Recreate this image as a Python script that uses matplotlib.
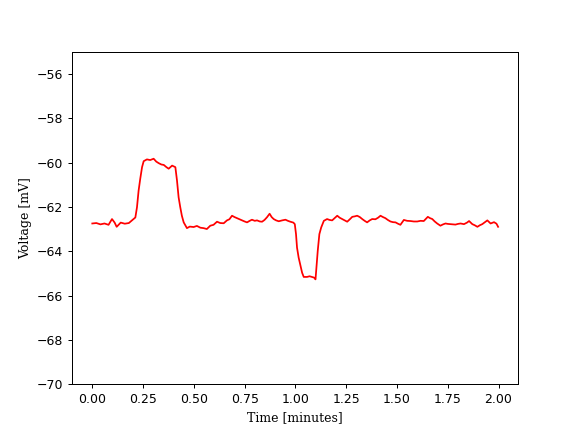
import matplotlib
matplotlib.use("Agg")
import matplotlib.pyplot as plt

time_min = [0.00, 0.02, 0.04, 0.06, 0.08, 0.097, 0.11, 0.12, 0.14, 0.16, 0.18, 0.195, 0.212,
            0.22, 0.228, 0.236, 0.245, 0.253, 0.269, 0.285, 0.302, 0.315, 0.327, 0.34, 0.352,
            0.365, 0.376, 0.393, 0.409, 0.417, 0.425, 0.433, 0.441, 0.45, 0.466, 0.48, 0.499,
            0.515, 0.532, 0.548, 0.564, 0.581, 0.597, 0.614, 0.63, 0.647, 0.663, 0.675, 0.688,
            0.70, 0.713, 0.725, 0.737, 0.75, 0.762, 0.775, 0.786, 0.80, 0.811, 0.825, 0.836,
            0.848, 0.86, 0.873, 0.883, 0.893, 0.905, 0.918, 0.935, 0.951, 0.963, 0.975, 0.99,
            0.997, 1.003, 1.008, 1.016, 1.025, 1.033, 1.041, 1.057, 1.07, 1.082, 1.092, 1.099,
            1.103, 1.11, 1.118, 1.127, 1.14, 1.156, 1.168, 1.181, 1.195, 1.206, 1.218, 1.23,
            1.243, 1.255, 1.268, 1.28, 1.292, 1.304, 1.317, 1.329, 1.341, 1.353, 1.366, 1.378,
            1.394, 1.407, 1.419, 1.431, 1.443, 1.455, 1.468, 1.48, 1.493, 1.505, 1.517, 1.534,
            1.55, 1.567, 1.583, 1.60, 1.616, 1.632, 1.652, 1.663, 1.674, 1.686, 1.698, 1.714,
            1.727, 1.739, 1.751, 1.764, 1.776, 1.788, 1.80, 1.813, 1.83, 1.845, 1.855, 1.871,
            1.883, 1.896, 1.908, 1.92, 1.933, 1.945, 1.961, 1.978, 1.99, 1.998]

voltage_mv = [-62.74, -62.72, -62.78, -62.74, -62.80, -62.54, -62.70, -62.89, -62.70, -62.75,
              -62.72, -62.60, -62.47, -62.01, -61.26, -60.73, -60.20, -59.93, -59.85, -59.88,
              -59.82, -59.95, -60.02, -60.08, -60.10, -60.20, -60.27, -60.13, -60.20, -60.80,
              -61.56, -62.00, -62.39, -62.69, -62.95, -62.88, -62.90, -62.85, -62.93, -62.95,
              -62.99, -62.84, -62.80, -62.66, -62.72, -62.73, -62.60, -62.55, -62.39, -62.45,
              -62.50, -62.55, -62.60, -62.65, -62.69, -62.62, -62.57, -62.62, -62.60, -62.65,
              -62.66, -62.58, -62.46, -62.30, -62.45, -62.54, -62.60, -62.64, -62.60, -62.57,
              -62.62, -62.66, -62.70, -62.77, -63.22, -63.83, -64.28, -64.65, -64.96, -65.15,
              -65.15, -65.12, -65.15, -65.18, -65.26, -64.81, -63.97, -63.22, -62.92, -62.62,
              -62.54, -62.58, -62.60, -62.48, -62.39, -62.48, -62.54, -62.60, -62.66, -62.55,
              -62.44, -62.42, -62.39, -62.45, -62.54, -62.62, -62.69, -62.60, -62.54, -62.55,
              -62.48, -62.39, -62.45, -62.50, -62.58, -62.65, -62.68, -62.69, -62.75, -62.80,
              -62.58, -62.62, -62.63, -62.65, -62.65, -62.62, -62.63, -62.44, -62.50, -62.54,
              -62.65, -62.74, -62.84, -62.78, -62.74, -62.76, -62.77, -62.78, -62.79, -62.76,
              -62.74, -62.77, -62.70, -62.63, -62.77, -62.82, -62.89, -62.82, -62.77, -62.68,
              -62.60, -62.74, -62.68, -62.75, -62.89]

y_ticks = [-70, -68, -66, -64, -62, -60, -58, -56]
x_ticks = [0.00, 0.25, 0.50, 0.75, 1.00, 1.25, 1.50, 1.75, 2.00]

fig, ax = plt.subplots(figsize=(6.4, 4.8), dpi=90)
ax.plot(time_min, voltage_mv, color="red", linewidth=1.4)
ax.set_ylim(-70, -55)
ax.set_yticks(y_ticks)
ax.set_xticks(x_ticks)
ax.set_xticklabels([f"{v:.2f}" for v in x_ticks])
ax.set_xlabel("Time [minutes]", family="DejaVu Serif")
ax.set_ylabel("Voltage [mV]", family="DejaVu Serif")
fig.savefig("out.png", dpi=90)
